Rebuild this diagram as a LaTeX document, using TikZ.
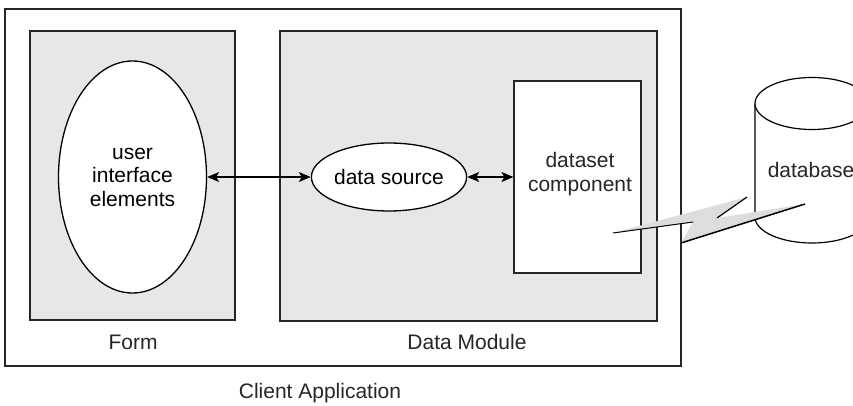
\documentclass[tikz,border=0pt]{standalone}
\usepackage{fontspec}
\setmainfont{Liberation Sans}
\usepackage{tikz}
\usetikzlibrary{calc,arrows.meta,positioning}
\usetikzlibrary{shapes.geometric}
\definecolor{boxgrey}{RGB}{230,231,233}
\definecolor{boltgrey}{RGB}{220,221,223}

\begin{document}
\begin{tikzpicture}[x=1pt,y=-1pt,font=\fontsize{21}{23.5}\selectfont,>={Stealth[length=12pt,width=10pt,inset=3pt]}]

\tikzset{outerbox/.style={draw=black!85,line width=1.3pt,fill=white,inner sep=0pt,shape=rectangle},
greybox/.style={draw=black!85,line width=1.3pt,fill=boxgrey,inner sep=0pt,shape=rectangle},
whitebox/.style={draw=black!85,line width=1.2pt,fill=white,inner sep=0pt,shape=rectangle,align=center},
whiteoval/.style={draw=black,line width=1.3pt,fill=white,inner sep=0pt,shape=ellipse,align=center},
label/.style={text=black!85,inner sep=0pt},
link/.style={<->,line width=1.1pt}}

\useasboundingbox (0,0) rectangle (853,406);

% Client application
\node[outerbox,minimum width=676pt,minimum height=357pt] (client) at (343,187.5) {};
\node[label] (clientLabel) at (320,393) {Client Application};

% Form
\node[greybox,minimum width=205pt,minimum height=289pt] (form) at (132.5,175.5) {};
\node[label] (formLabel) at (133,342) {Form};
\node[whiteoval,minimum width=148pt,minimum height=232pt] (ui) at (132.5,177) {user\\interface\\elements};

% Data module
\node[greybox,minimum width=377pt,minimum height=290pt] (module) at (468.5,176) {};
\node[label] (moduleLabel) at (467,342) {Data Module};
\node[whiteoval,minimum width=148pt,minimum height=68pt] (src) at (389,177) {data source};
\node[whitebox,minimum width=127pt,minimum height=192pt] (dset) at (577.5,177) {};
\node[label,align=center] (dsetLabel) at (580,174) {dataset\\component};

% Links
\draw[link] (ui) -- (src);
\draw[link] (src) -- (dset);

% Database
\draw[line width=1.2pt,fill=white] (755,103.5) -- (755,217) arc[start angle=180,end angle=360,x radius=57pt,y radius=26pt] -- (869,103.5);
\draw[line width=1.2pt,fill=white] (812,103.5) ellipse [x radius=57pt,y radius=26pt];
\node[label] (db) at (811,170) {database};

% Connection bolt
\fill[boltgrey] (613,233) -- (747,197) -- (717,218) -- (805,204) -- (681,243) -- (693,222) -- cycle;
\draw[line width=1pt] (613,233) -- (693,222);
\draw[line width=1.2pt] (747,197) -- (717,218);
\draw[line width=1.5pt] (681,243) -- (805,204);

\end{tikzpicture}
\end{document}
